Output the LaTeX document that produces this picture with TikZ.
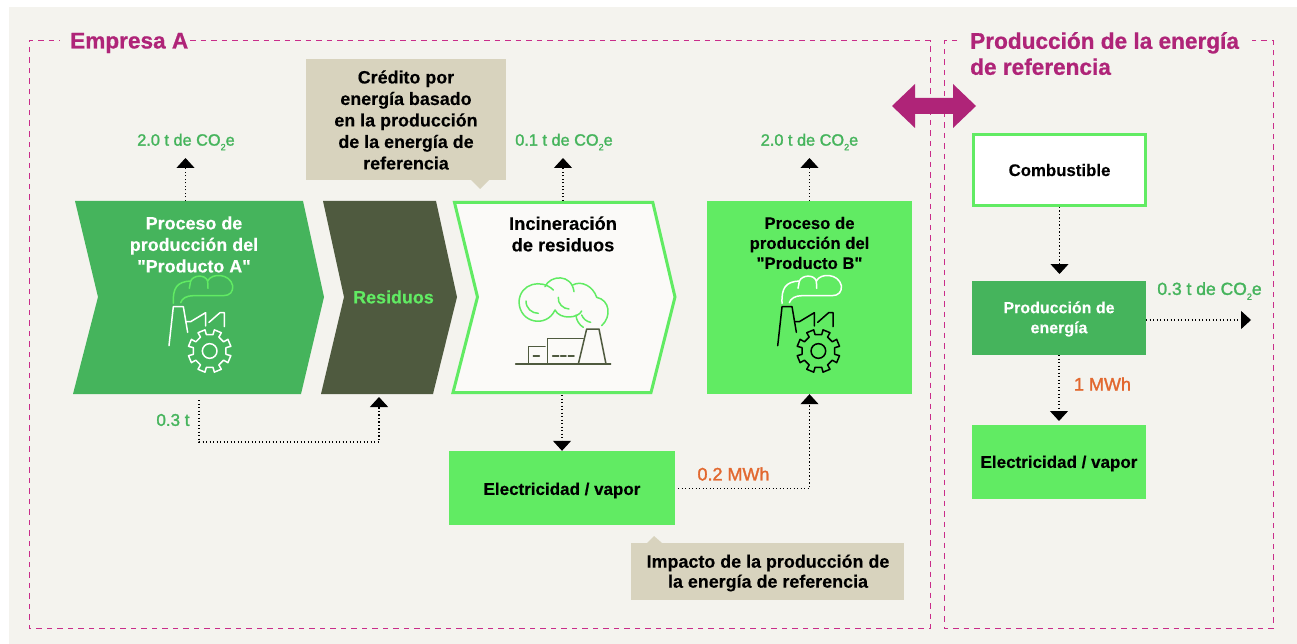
\documentclass[tikz,border=0pt]{standalone}
\usepackage{fontspec}
\setmainfont{Liberation Sans}
\newfontfamily\bodyf[BoldFeatures={FakeBold=0.25}]{Liberation Sans}
\newfontfamily\labfont[FakeBold=1.6]{Liberation Sans}
\newfontfamily\ttlfont[BoldFeatures={FakeBold=0.8}]{Liberation Sans}
\usetikzlibrary{arrows.meta}
\definecolor{paper}{HTML}{F4F3EE}
\definecolor{gmid}{HTML}{45B45C}
\definecolor{gbright}{HTML}{61EB63}
\definecolor{dark}{HTML}{4F5A3F}
\definecolor{beige}{HTML}{D8D3BE}
\definecolor{magenta}{HTML}{AF2478}
\definecolor{framec}{HTML}{C92C8A}
\definecolor{orange}{HTML}{E2682F}
\definecolor{whitish}{HTML}{FBFAF8}
\newcommand{\cotwo}{CO\raisebox{-0.28em}{\fontsize{9}{9}\selectfont 2}e}
\newcommand{\fs}[2]{\fontsize{#1}{#2}\selectfont}
\tikzset{
  x=1pt,y=-1pt,
  frame/.style={draw=framec,line width=1pt,dash pattern=on 5.5pt off 5pt},
  conn/.style={draw=black,line width=1.1pt,dash pattern=on 1.1pt off 2.4pt,-{Triangle[width=18pt,length=10pt]}},
  lbl/.style={font=\labfont\fs{16.3}{20},text=gmid,inner sep=0pt},
  olbl/.style={font=\labfont\fs{18}{20},text=orange,inner sep=0pt},
  bt/.style={font=\bodyf\bfseries\fs{17.9}{21.5},align=center,inner sep=0pt},
  bte/.style={font=\bodyf\bfseries\fs{17}{20},align=center,inner sep=0pt},
  bts/.style={font=\bodyf\bfseries\fs{16}{20},align=center,inner sep=0pt},
  ttl/.style={font=\ttlfont\bfseries\fs{22.6}{26},text=magenta,align=left,inner sep=0pt},
  ic/.style={line width=1.5pt,line cap=round,line join=round},
}
% factory + gear icon in 1/3 pixel units
\newcommand{\facticon}[3]{%
\begin{scope}[shift={(#1,120)},x=0.33333pt,y=-0.33333pt,ic]
 \draw[#2] (327,677) -- (340,560) -- (370,560) -- (383,637);
 \draw[#2] (378,605) -- (392,605) -- (437,578) -- (437,618);
 \draw[#2] (447,607) -- (480,578) -- (493,578) -- (493,620);
 \draw[#3] (340,550) .. controls (338,505) and (350,485) .. (392,483)
   .. controls (400,465) and (435,462) .. (443,483)
   .. controls (455,458) and (510,460) .. (518,497)
   .. controls (520,515) and (510,527) .. (490,527) -- (400,527)
   .. controls (380,527) and (366,535) .. (362,548);
 \draw[#3] (392,483) -- (388,505);
 \draw[#3] (443,483) -- (444,505);
 \begin{scope}[shift={(449,693)}]
  \draw[#2] (0,0) circle (22);
  \draw[#2] (22.5-11:50)
   \foreach \k in {0,45,...,315}{
     -- (\k+22.5-11:50) -- (\k+22.5-10:65) -- (\k+22.5+10:65) -- (\k+22.5+11:50)
     -- (\k+67.5-11:50) } -- cycle;
 \end{scope}
\end{scope}}
\begin{document}
\begin{tikzpicture}
\useasboundingbox (0,0) rectangle (1297,644);
\fill[white] (0,0) rectangle (1297,644);
\fill[paper] (9,7) rectangle (1297,644);
% frames
\coordinate (fa) at (190,41);
\coordinate (fb) at (930,41);
\coordinate (fc) at (930,628);
\coordinate (fd) at (29,628);
\coordinate (fe) at (29,41);
\coordinate (ff) at (60,41);
\draw[frame] (fa) -- (fb) -- (fc) -- (fd) -- (fe) -- (ff);
\coordinate (ga) at (957,41);
\coordinate (gb) at (944,41);
\coordinate (gc) at (944,628);
\coordinate (gd) at (1273,628);
\coordinate (ge) at (1273,41);
\coordinate (gf) at (1252,41);
\draw[frame] (ga) -- (gb) -- (gc) -- (gd) -- (ge) -- (gf);
\node[ttl,anchor=west] (t1) at (70,43) {Empresa A};
\node[ttl,anchor=north west] (t2) at (970,32) {Producción de la energía\\de referencia};
% double arrow
\fill[magenta] (892,106) -- (915,84) -- (915,98) -- (953,98) -- (953,84) -- (976,106) -- (953,128) -- (953,114) -- (915,114) -- (915,128) -- cycle;
% chevrons
\fill[gmid] (75,201) -- (303,201) -- (324,297) -- (301,394) -- (73,394) -- (98,297) -- cycle;
\fill[dark] (323,201) -- (436,201) -- (457,297) -- (433,394) -- (321,394) -- (344,297) -- cycle;
\draw[gbright,fill=whitish,line width=3pt,miter limit=4] (454.5,202.5) -- (652.8,202.5) -- (675,297) -- (651,392.5) -- (453,392.5) -- (477.5,297) -- cycle;
% boxes
\node[fill=gbright,minimum width=205pt,minimum height=193pt,inner sep=0pt] (prodB) at (809.5,297.5) {};
\node[fill=gbright,minimum width=226pt,minimum height=74pt,inner sep=0pt] (elecL) at (562,488) {};
\node[bte] (elecLt) at (562,490.5) {Electricidad / vapor};
\node[fill=white,draw=gbright,line width=3pt,minimum width=172pt,minimum height=71pt,inner sep=0pt] (comb) at (1059.5,170) {};
\node[bte,font=\bodyf\bfseries\fs{16.8}{20}] (combt) at (1059.5,170) {Combustible};
\node[fill=gmid,minimum width=174pt,minimum height=74pt,inner sep=0pt] (prodE) at (1059,318) {};
\node[bts,text=white] (prodEt) at (1059,319) {Producción de\\energía};
\node[fill=gbright,minimum width=174pt,minimum height=74pt,inner sep=0pt] (elecR) at (1059,462) {};
\node[bte] (elecRt) at (1059,463.5) {Electricidad / vapor};
% callouts
\fill[beige] (306,59) rectangle (506,180);
\fill[beige] (471,180) -- (480,189) -- (489,180) -- cycle;
\node[bt] (c1) at (406,120) {Crédito por\\energía basado\\en la producción\\de la energía de\\referencia};
\fill[beige] (631,543) rectangle (904,600);
\fill[beige] (647,543) -- (654,536) -- (662,543) -- cycle;
\node[bt,font=\bodyf\bfseries\fs{17.9}{20}] (c2) at (768,573) {Impacto de la producción de\\la energía de referencia};
% labels in shapes
\node[bt,text=white] (ta) at (194,244.5) {Proceso de\\producción del\\"Producto A"};
\node[bt,text=gbright] (tr) at (393.5,297) {Residuos};
\node[bt,font=\bodyf\bfseries\fs{18.3}{21.5}] (ti) at (563,234) {Incineración\\de residuos};
\node[bts,font=\bodyf\bfseries\fs{16.7}{20}] (tb) at (809.5,243) {Proceso de\\producción del\\"Producto B"};
% icons
\facticon{60}{white}{gbright}
\facticon{668.7}{black}{white}
\begin{scope}[shift={(500,265)},x=0.33333pt,y=-0.33333pt,ic]
 \draw[dark] (47,297) -- (332,297);
 \draw[dark] (85,297) -- (85,244) -- (135,244);
 \draw[dark] (143,297) -- (143,220) -- (250,220);
 \draw[dark] (235,297) -- (260,192) -- (297,192) -- (318,297);
 \draw[dark] (100,273) -- (118,273) (158,273) -- (176,273) (182,273) -- (198,273) (205,273) -- (222,273);
 \draw[gbright] (160,75) .. controls (125,40) and (60,55) .. (57,110)
    .. controls (58,175) and (140,190) .. (165,135)
    .. controls (180,165) and (235,160) .. (245,138);
 \draw[gbright] (135,65) .. controls (150,30) and (215,25) .. (222,80);
 \draw[gbright] (218,60) .. controls (245,45) and (280,65) .. (290,97)
    .. controls (330,105) and (335,155) .. (305,182);
 \draw[gbright] (78,108) .. controls (78,130) and (95,145) .. (115,145);
 \draw[gbright] (175,97) .. controls (172,115) and (190,132) .. (207,132);
 \draw[gbright] (228,150) .. controls (228,165) and (238,180) .. (250,187);
 \draw[gbright] (245,150) .. controls (250,162) and (260,170) .. (272,172);
\end{scope}
% co2 labels
\node[lbl] (l1) at (186,142) {2.0 t de \cotwo};
\node[lbl] (l2) at (564,142) {0.1 t de \cotwo};
\node[lbl] (l3) at (809.5,142) {2.0 t de \cotwo};
\node[lbl,font=\labfont\fs{17.5}{20}] (l4) at (1209.5,291) {0.3 t de \cotwo};
\node[lbl,font=\labfont\fs{17}{20}] (l5) at (173,420) {0.3 t};
\node[olbl] (l6) at (733.5,474) {0.2 MWh};
\node[olbl] (l7) at (1102.5,384) {1 MWh};
% connectors
\coordinate (a0) at (185.5,201); \coordinate (a1) at (185.5,158);
\draw[conn] (a0) -- (a1);
\coordinate (i0) at (563,201); \coordinate (i1) at (563,158);
\draw[conn] (i0) -- (i1);
\coordinate (b1) at (809.5,158);
\draw[conn] (prodB.north) -- (b1);
\coordinate (r0) at (199,400); \coordinate (r1) at (199,442); \coordinate (r2) at (379,442); \coordinate (r3) at (379,397);
\draw[conn] (r0) -- (r1) -- (r2) -- (r3);
\coordinate (i2) at (562,395);
\draw[conn] (i2) -- (elecL.north);
\coordinate (e0) at (678,488.5); \coordinate (e1) at (809.5,488.5);
\draw[conn] (e0) -- (e1) -- (prodB.south);
\coordinate (c0) at (1059.5,274);
\draw[conn] (comb.south) -- (c0);
\coordinate (p1) at (1059,421);
\draw[conn] (prodE.south) -- (p1);
\coordinate (p2) at (1251,320);
\draw[conn] (prodE.east |- p2) -- (p2);
\end{tikzpicture}
\end{document}
